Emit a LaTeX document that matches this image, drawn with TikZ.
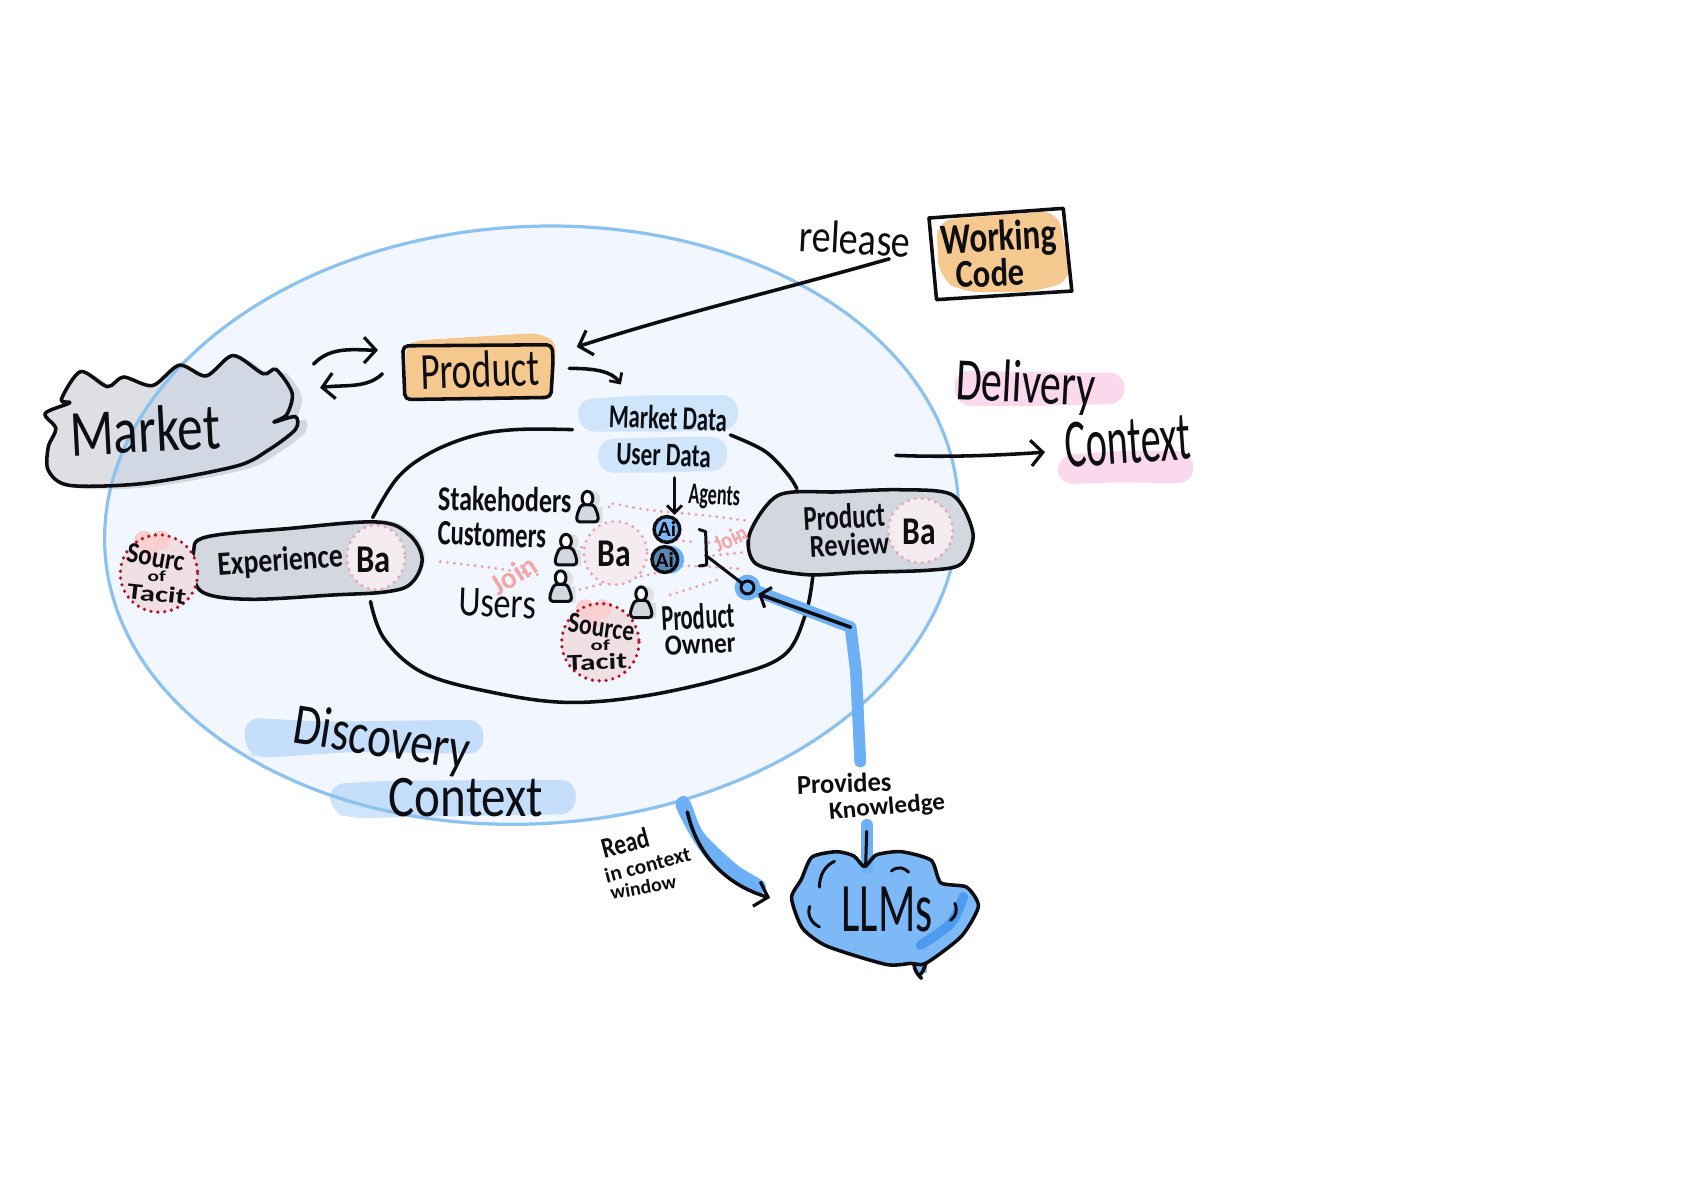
\documentclass[tikz,border=0pt]{standalone}
\usepackage{fontspec}
\usepackage{graphicx}
\setmainfont{Carlito}
\usetikzlibrary{arrows.meta,shapes.geometric}
\definecolor{ink}{HTML}{0E0E12}
\definecolor{ell}{HTML}{8CC2F0}
\definecolor{pale}{HTML}{CFE5FB}
\definecolor{gry}{HTML}{DEDFE2}
\definecolor{gryb}{HTML}{D3D7DF}
\definecolor{org}{HTML}{F4C88F}
\definecolor{pnk}{HTML}{FAD9EC}
\definecolor{dots}{HTML}{E8A5AE}
\definecolor{joinc}{HTML}{F4A5A5}
\definecolor{red1}{HTML}{B3142D}
\definecolor{blu}{HTML}{6DB0F5}
\definecolor{llm}{HTML}{7DB9F7}
\definecolor{dblu}{HTML}{4D9BF0}
\definecolor{bafill}{HTML}{F4ECF0}
\definecolor{srcfill}{HTML}{F0E0E4}
\definecolor{heart}{HTML}{FBCFCF}
\newcommand\hw[3]{\resizebox*{#1pt}{#2pt}{#3}}
\newcommand\hwb[3]{\resizebox*{#1pt}{#2pt}{\bfseries #3}}
\newcommand\marketpath{plot[smooth cycle,tension=.5] coordinates {(57,372)(75,346)(100,360)(115,351)(142,359)(167,340)(192,350)(217,331)(245,348)(257,344)(272,366)(267,386)(255,393)(275,388)(275,400)(250,419)(220,434)(135,450)(65,452)(45,438)(45,416)(52,399)(42,385)(65,375)}}
\newcommand\expath{plot[smooth cycle,tension=.6] coordinates {(192,500)(270,492)(350,486)(380,497)(393,520)(383,543)(360,551)(310,554)(235,558)(192,553)(180,537)(180,515)}}
\newcommand\prpath{plot[smooth cycle,tension=.5] coordinates {(698,497)(725,461)(780,458)(838,456)(887,461)(906,497)(895,525)(864,531)(800,533)(750,535)(704,525)}}
\newcommand\llmpath{plot[smooth cycle,tension=.4] coordinates {(805,807)(795,797)(779,793)(756,798)(746,819)(737,836)(747,864)(770,881)(825,898)(848,897)(862,897)(895,872)(911,844)(900,826)(876,822)(867,801)(839,793)(816,796)}}
\newcommand\person[2]{\begin{scope}[shift={(#1,#2)}]
  \fill[gry] (4,-7) circle (8) (-4,0) rectangle (14,15);
  \draw[thick3,fill=white] (0,-8) ellipse [x radius=5,y radius=6.5];
  \draw[thick3,fill=gryb,rounded corners=3] (-10,14) -- (-10,8) -- (-6,-2) -- (6,-2) -- (10,8) -- (10,14) -- cycle;
\end{scope}}
\tikzset{
  thick3/.style={draw=ink,line width=2.8pt,line cap=round,line join=round},
  ink3/.style={draw=ink,line width=3.3pt,line cap=round,line join=round},
  txt/.style={inner sep=0pt,text=ink},
  pill/.style={rounded corners=14pt},
  dotp/.style={draw=dots,line width=3.1pt,line cap=round,dash pattern=on 0pt off 6.5pt},
  redp/.style={draw=red1,line width=3.4pt,line cap=round,dash pattern=on 0pt off 6.4pt},
  bluel/.style={draw=blu,line width=11pt,line cap=round,line join=round},
  barb/.style={-{Straight Barb[length=11pt,width=24pt,line width=3pt]}},
  barbs/.style={-{Straight Barb[length=7pt,width=14pt,line width=2.6pt]}},
}
\begin{document}
\begin{tikzpicture}[x=1pt,y=-1pt]
\useasboundingbox (0,0) rectangle (1568,1108);
\fill[white] (0,0) rectangle (1568,1108);
% pale pills under the ellipse
\fill[pale,pill] (228,668) -- (300,672) -- (450,670) -- (450,702) -- (330,700) -- (240,706) -- (228,700) -- cycle;
\fill[pale,pill] (307,730) -- (360,727) -- (536,726) -- (536,758) -- (420,760) -- (325,762) -- (307,755) -- cycle;
% greys under the ellipse
\fill[gry,shift={(9,3)}] \marketpath;
\fill[gry] \marketpath;
\fill[gry,shift={(1,0)}] \prpath;
% discovery ellipse
\fill[blue!60!cyan,fill opacity=.05,rotate around={3.5:(495,489)}] (495,489) ellipse [x radius=398,y radius=278];
\draw[ell,line width=3pt,rotate around={3.5:(495,489)}] (495,489) ellipse [x radius=398,y radius=278];
% market
\draw[ink3] \marketpath;
\node[txt,rotate=3] (market) at (135,400) {\hw{140}{43}{Market}};
% product
\fill[org,rounded corners=8pt] (388,317) -- (500,310) -- (518,318) -- (514,372) -- (378,372) -- (378,322) -- cycle;
\draw[ink3,rounded corners=5pt] (375,322) -- (514,321) -- (515,335) -- (513,370) -- (450,371) -- (377,372) -- cycle;
\node[txt,rotate=2] (product) at (447,344) {\hw{111}{34}{Product}};
% working code
\fill[org,rounded corners=16pt] (872,205) -- (985,196) -- (998,262) -- (960,272) -- (895,272) -- (874,258) -- cycle;
\draw[ink3] (865,203) -- (990,194) -- (998,271) -- (872,279) -- cycle;
\node[txt,rotate=3] (working) at (930,223) {\hw{108}{35}{\bfseries Working}};
\node[txt,rotate=2] (code) at (922,254) {\hw{64}{26}{\bfseries Code}};
\node[txt,rotate=-3] (release) at (796,222) {\hw{104}{30}{release}};
% arrows between market, product, working code
\coordinate (m1) at (292,339);
\coordinate (p1) at (352,326);
\coordinate (p2) at (356,348);
\coordinate (m2) at (298,361);
\coordinate (w1) at (828,241);
\coordinate (p3) at (537,323);
\coordinate (p4) at (530,343);
\coordinate (d1) at (578,358);
\draw[ink3,barb] (m1) .. controls (308,322) and (330,326) .. (p1);
\draw[ink3,barb] (p2) .. controls (342,362) and (320,358) .. (m2);
\draw[ink3,barb] (w1) .. controls (720,272) and (640,290) .. (p3);
\draw[ink3,barbs] (p4) .. controls (555,343) and (570,346) .. (d1);
% delivery context
\fill[pnk,pill] (888,345) -- (1000,347) -- (1047,347) -- (1047,376) -- (960,378) -- (890,378) -- cycle;
\fill[pnk,pill] (985,424) -- (1040,420) -- (1111,420) -- (1111,450) -- (1040,449) -- (985,451) -- cycle;
\node[txt,rotate=-3] (delivery) at (955,360) {\hw{130}{48}{Delivery}};
\node[txt,rotate=4] (context) at (1050,411) {\hw{118}{42}{Context}};
\coordinate (e1) at (834,424);
\coordinate (e2) at (973,421);
\draw[ink3,barb] (e1) .. controls (880,426) and (930,424) .. (e2);
% data pills
\fill[pale,pill] (537,372) -- (600,368) -- (687,368) -- (687,400) -- (620,402) -- (540,402) -- cycle;
\fill[pale,pill] (557,409) -- (620,407) -- (677,407) -- (677,438) -- (620,440) -- (557,440) -- cycle;
\node[txt,rotate=-2] (mdata) at (622,389) {\hwb{110}{22}{Market Data}};
\node[txt,rotate=-2] (udata) at (618,424) {\hwb{88}{20}{User Data}};
% inner blob outline
\draw[ink3] plot[smooth,tension=.6] coordinates {(533,400)(480,400)(440,406)(400,422)(370,445)(347,482)};
\draw[ink3] plot[smooth,tension=.6] coordinates {(680,405)(712,420)(733,441)(742,455)};
\draw[ink3] plot[smooth,tension=.6] coordinates {(345,560)(358,595)(395,627)(460,645)(528,654)(600,648)(680,630)(730,610)(750,572)(757,535)};
% experience pill
\fill[gry,shift={(3,-2)}] \expath;
\fill[gryb] \expath;
\fill[bafill] (350,519) ellipse [x radius=27,y radius=30];
\draw[dotp] (350,519) ellipse [x radius=27,y radius=30];
\draw[ink3] \expath;
\node[txt,rotate=4] (experience) at (261,523) {\hw{117}{27}{\bfseries Experience}};
\node[txt] (ba1) at (348,521) {\hw{32}{24}{\bfseries Ba}};
% product review pill
\fill[gryb] \prpath;
\fill[bafill] (857,494) circle (30);
\draw[dotp] (857,494) circle (30);
\draw[ink3] \prpath;
\node[txt,rotate=3] (preview1) at (786,481) {\hw{76}{23}{\bfseries Product}};
\node[txt,rotate=3] (preview2) at (791,507) {\hw{74}{21}{\bfseries Review}};
\node[txt] (ba3) at (856,495) {\hw{31}{24}{\bfseries Ba}};
% source of tacit, left
\fill[srcfill] (148,534) circle (36);
\fill[heart] (134,503) circle (9) (150,503) circle (9) (142,515) circle (6);
\draw[redp] (148,534) circle (36);
\node[txt,rotate=-10] (s1) at (145,519) {\hwb{54}{18}{Sourc}};
\node[txt] (s2) at (146,537) {\hwb{17}{10}{of}};
\node[txt,rotate=-6] (s3) at (146,553) {\hwb{55}{15}{Tacit}};
% join dots
\draw[dotp] plot[smooth] coordinates {(567,472)(570,469)(605,475)(658,480)(697,485)};
\draw[dotp] (630,503) -- (649,505);
\draw[dotp] (658,518) -- (695,514);
\draw[dotp] plot[smooth] coordinates {(540,549)(568,542)(605,535)(637,527)(692,530)};
\draw[dotp] (624,554) -- (668,540);
\draw[dotp] plot[smooth] coordinates {(410,523)(453,528)(501,535)};
\draw[dotp] (535,511) -- (543,509);
\draw[dotp] (660,505) -- (695,500);
\node[txt,rotate=32,text=joinc] (join1) at (478,535) {\hw{45}{20}{\bfseries Join}};
\node[txt,rotate=25,text=joinc] (join2) at (680,501) {\hw{32}{16}{\bfseries Join}};
% inner ba
\fill[bafill] (573,515) circle (29.5);
\draw[dotp] (573,515) circle (29.5);
\node[txt] (ba2) at (572,516) {\hw{31}{24}{\bfseries Ba}};
% labels & persons
\node[txt,rotate=-1] (stake) at (470,465) {\hw{124}{23}{\bfseries Stakehoders}};
\node[txt,rotate=-2] (cust) at (458,498) {\hw{101}{22}{\bfseries Customers}};
\node[txt,rotate=-2] (users) at (463,562) {\hw{72}{26}{Users}};
\node[txt,rotate=3] (po1) at (650,574) {\hw{68}{24}{\bfseries Product}};
\node[txt,rotate=3] (po2) at (652,600) {\hw{66}{18}{\bfseries Owner}};
\person{547}{472}
\person{527}{512}
\person{522}{546}
\person{597}{561}
% source of tacit, lower
\fill[srcfill] (559,598) circle (36);
\fill[heart] (545,567) circle (9) (561,567) circle (9) (553,579) circle (6);
\draw[redp] (559,598) circle (36);
\node[txt,rotate=-8] (s4) at (560,584) {\hwb{62}{18}{Source}};
\node[txt] (s5) at (559,601) {\hwb{18}{10}{of}};
\node[txt,rotate=2] (s6) at (556,616) {\hwb{56}{15}{Tacit}};
% agents
\fill[blu] (625,495) circle (9);
\fill[blu] (624,521) circle (13);
\node[circle,draw=ink,line width=3.2pt,fill=llm,minimum size=24pt,inner sep=0pt] (ai1) at (621,493) {\hwb{17}{14}{Ai}};
\node[circle,draw=ink,line width=3.2pt,fill=llm!70!ink,minimum size=24pt,inner sep=0pt] (ai2) at (619,521) {\hwb{17}{14}{Ai}};
\node[txt,rotate=-3] (agents) at (665,463) {\hwb{48}{23}{Agents}};
\coordinate (a1) at (628,445);
\draw[ink3,barbs] (a1) -- (ai1.north -| a1);
\draw[thick3] (651,493) -- (657,495) -- (658,526) -- (651,527);
\coordinate (br) at (657,517);
% blue feeder line
\coordinate (hub) at (696,547);
\coordinate (bend) at (792,584);
\coordinate (low) at (801,709);
\fill[blu] (hub) circle (12);
\draw[bluel] (hub) -- (bend) -- (797,625) -- (low);
\draw[thick3] (br) -- (hub);
\draw[draw=ink,line width=2.8pt,fill=blu] (hub) circle (6);
\draw[ink3,-{Straight Barb[length=8pt,width=20pt,line width=3pt]}] (bend) -- (706,553);
% LLMs
\coordinate (in1) at (807,768);
\coordinate (in2) at (807,808);
\draw[draw=llm,line width=10pt] (858,895) -- (858,906);
\fill[llm] \llmpath;
\draw[bluel] (in1) -- (in2);
\draw[dblu,line width=9pt,line cap=round] plot[smooth] coordinates {(897,835)(885,860)(857,880)};
\draw[ink3] \llmpath;
\draw[ink3] (851,898) .. controls (852,905) and (855,908) .. (858,911);
\draw[ink3] (862,897) .. controls (860,903) and (859,906) .. (856,908);
\draw[thick3] (807,774) -- (806,806);
\draw[thick3] (777,802) .. controls (768,806) and (763,815) .. (763,826);
\draw[thick3] (830,811) .. controls (836,806) and (842,808) .. (846,812);
\draw[thick3] (754,844) .. controls (751,852) and (756,860) .. (763,863);
\draw[thick3] (889,841) .. controls (892,848) and (890,853) .. (885,857);
\node[txt] (llms) at (826,847) {\hw{85}{42}{LLMs}};
% provides knowledge
\node[txt,rotate=2] (prov) at (786,729) {\hw{88}{18}{\bfseries Provides}};
\node[txt,rotate=5] (know) at (826,752) {\hw{108}{20}{\bfseries Knowledge}};
% read
\fill[blu] plot[smooth cycle,tension=.5] coordinates {(629,750)(636,741)(643,747)(655,775)(686,805)(712,822)(706,832)(668,810)(647,785)};
\coordinate (r1) at (640,756);
\coordinate (r2) at (717,836);
\draw[ink3,barb] (r1) .. controls (650,800) and (680,825) .. (r2);
\node[txt,rotate=15] (read1) at (582,785) {\hwb{45}{19}{Read}};
\node[txt,rotate=15] (read2) at (603,805) {\hwb{82}{14}{in context}};
\node[txt,rotate=10] (read3) at (599,826) {\hwb{62}{13}{window}};
% discovery context
\node[txt,rotate=-9] (disc) at (355,690) {\hw{165}{46}{Discovery}};
\node[txt] (ctx) at (434,743) {\hw{144}{36}{Context}};
\end{tikzpicture}
\end{document}
